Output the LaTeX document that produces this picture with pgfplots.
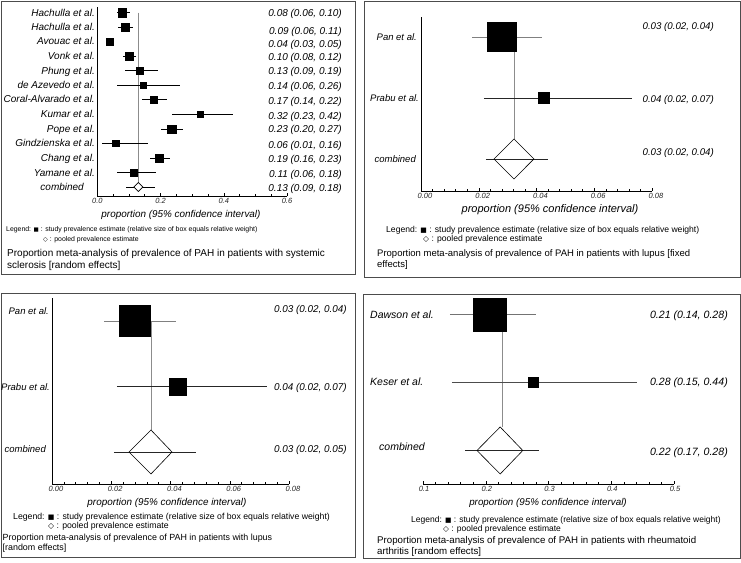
\documentclass[border=0pt]{standalone}
\usepackage{fontspec}
\setmainfont{Liberation Sans}
\newfontfamily\dejavu{DejaVu Sans}
\usepackage{pgfplots}
\pgfplotsset{compat=1.18}
\usepackage{pgfplotstable}

\newcommand{\fs}[1]{\fontsize{#1}{#1}\selectfont}
\newcommand{\sq}{\scalebox{0.8}{\dejavu ■}}
\newcommand{\dm}{\scalebox{0.9}{\dejavu ◇}}

% panel A: systemic sclerosis (row, estimate, lower, upper, half box size in pt)
\pgfplotstableread{
row est lo hi s
-1 0.0796 0.061 0.105 4.1
-2 0.0875 0.064 0.113 4.0
-3 0.039 0.031 0.049 3.7
-4 0.100 0.080 0.122 4.1
-5 0.134 0.087 0.191 3.7
-6 0.144 0.063 0.263 2.8
-7 0.178 0.140 0.222 3.7
-8 0.325 0.236 0.428 3.0
-9 0.235 0.200 0.272 4.1
-10 0.058 0.014 0.159 3.2
-11 0.196 0.166 0.230 3.8
-12 0.115 0.063 0.185 3.7
}\tabA

\pgfplotsset{
  forest/.style={
    scale only axis, clip=false, anchor=south west,
    axis x line=bottom, axis y line=left,
    axis line style={-, black, line width=0.6pt},
    ytick=\empty, enlargelimits=false, scaled x ticks=false,
    xtick align=inside, major tick length=3.5pt, minor tick length=2.5pt,
    tick style={black, line width=0.5pt},
    xticklabel style={font=\fs{7.5}\itshape, inner sep=1.8pt, text=black!85},
  },
}
\tikzset{
  T/.style={inner sep=0pt, text depth=0pt, font=\fs{#1}, execute at begin node={\rule{0pt}{0.72em}}},
  TI/.style={inner sep=0pt, text depth=0pt, font=\fs{#1}\itshape, execute at begin node={\rule{0pt}{0.72em}}},
}

\begin{document}
\begin{tikzpicture}
\useasboundingbox (0pt,0pt) rectangle (741pt,-562pt);

% ---------------- Panel A ----------------
\begin{axis}[forest, at={(97.3pt,-196pt)}, width=189.7pt, height=189pt,
  xmin=0, xmax=0.6, ymin=-13.62, ymax=-0.62,
  xtick={0,0.2,0.4,0.6}, xticklabels={0.0,0.2,0.4,0.6}, minor x tick num=3]
\addplot[black!45, line width=0.5pt] coordinates {(0.13,-1) (0.13,-13)};
\addplot[only marks, mark=none, error bars/.cd, x dir=both, x explicit, error mark=none,
  error bar style={black, line width=0.6pt}]
  table[x=est, y=row, x error plus expr=\thisrow{hi}-\thisrow{est}, x error minus expr=\thisrow{est}-\thisrow{lo}]{\tabA};
\addplot[scatter, only marks, mark=square*, scatter/use mapped color={draw=black, fill=black},
  mark options={line width=0.2pt},
  visualization depends on={\thisrow{s}\as\bsize},
  scatter/@pre marker code/.append style={/tikz/mark size=\bsize}]
  table[x=est, y=row]{\tabA};
\addplot[black, line width=0.6pt] coordinates {(0.091,-13) (0.182,-13)};
\addplot[black, fill=white, line width=0.6pt] coordinates {(0.1158,-13) (0.13,-12.69) (0.1442,-13) (0.13,-13.31)} -- cycle;
\end{axis}

% ---------------- Panel B ----------------
\begin{axis}[forest, at={(421pt,-191pt)}, width=231pt, height=174pt,
  xmin=0, xmax=0.08, ymin=-3.525, ymax=-0.672,
  xtick={0,0.02,0.04,0.06,0.08}, xticklabels={0.00,0.02,0.04,0.06,0.08},
  minor x tick num=4, xticklabel style={xshift=4pt}]
\addplot[black!45, line width=0.5pt] coordinates {(0.0322,-1) (0.0322,-2.672)};
\addplot[black!50, line width=0.7pt] coordinates {(0.0177,-1) (0.0419,-1)};
\addplot[black!85, line width=0.7pt] coordinates {(0.0218,-2) (0.073,-2)};
\addplot[black!85, line width=0.7pt] coordinates {(0.0225,-3) (0.044,-3)};
\addplot[only marks, mark=square*, mark size=14.4, black] coordinates {(0.028,-1)};
\addplot[only marks, mark=square*, mark size=5.4, black] coordinates {(0.0424,-2)};
\addplot[black, line width=0.6pt] coordinates {(0.0253,-3) (0.0322,-2.672) (0.0391,-3) (0.0322,-3.328)} -- cycle;
\end{axis}

% ---------------- Panel C ----------------
\begin{axis}[forest, at={(52pt,-484pt)}, width=237pt, height=186pt,
  xmin=0, xmax=0.08, ymin=-3.489, ymax=-0.649,
  xtick={0,0.02,0.04,0.06,0.08}, xticklabels={0.00,0.02,0.04,0.06,0.08},
  minor x tick num=4, xticklabel style={xshift=4pt}]
\addplot[black!45, line width=0.5pt] coordinates {(0.0334,-1) (0.0334,-2.664)};
\addplot[black!50, line width=0.7pt] coordinates {(0.0176,-1) (0.0419,-1)};
\addplot[black!85, line width=0.7pt] coordinates {(0.0219,-2) (0.0726,-2)};
\addplot[black!85, line width=0.7pt] coordinates {(0.0209,-3) (0.0486,-3)};
\addplot[only marks, mark=square*, mark size=15.5, black] coordinates {(0.0278,-1)};
\addplot[only marks, mark=square*, mark size=8.3, black] coordinates {(0.0424,-2)};
\addplot[black, line width=0.6pt] coordinates {(0.026,-3) (0.0334,-2.664) (0.0405,-3) (0.0334,-3.336)} -- cycle;
\end{axis}

% ---------------- Panel D ----------------
\begin{axis}[forest, axis y line=none, at={(423pt,-484pt)}, width=251pt, height=187.5pt,
  xmin=0.1, xmax=0.5, ymin=-3.493, ymax=-0.735,
  xtick={0.1,0.2,0.3,0.4,0.5}, xticklabels={0.1,0.2,0.3,0.4,0.5},
  minor x tick num=4, xticklabel style={xshift=1pt}]
\addplot[black!45, line width=0.5pt] coordinates {(0.226,-1) (0.226,-2.654)};
\addplot[black!55, line width=0.7pt] coordinates {(0.143,-1) (0.280,-1)};
\addplot[black!70, line width=0.7pt] coordinates {(0.146,-2) (0.441,-2)};
\addplot[black!85, line width=0.7pt] coordinates {(0.167,-3) (0.285,-3)};
\addplot[only marks, mark=square*, mark size=16.3, black] coordinates {(0.206,-1)};
\addplot[only marks, mark=square*, mark size=4.9, black] coordinates {(0.275,-2)};
\addplot[black, line width=0.6pt] coordinates {(0.186,-3) (0.223,-2.654) (0.259,-3) (0.223,-3.346)} -- cycle;
\end{axis}

\begin{scope}[x=1pt, y=-1pt]
% frames
\draw[black!70, line width=1pt] (1,1) rectangle (355,274);
\draw[black!70, line width=1pt] (364,1) rectangle (740,277);
\draw[black!70, line width=1pt] (1,293) rectangle (355,557);
\draw[black!70, line width=1pt] (363,294) rectangle (740,558);

% Panel A texts
\foreach \y/\t in {12.5/Hachulla et al., 27/Hachulla et al., 41/Avouac et al., 56/Vonk et al., 71/Phung et al., 85/de Azevedo et al., 99/Coral-Alvarado et al., 114/Kumar et al., 129/Pope et al., 143/Gindzienska et al., 158/Chang et al., 173/Yamane et al.}
  \node[TI=10, anchor=east] at (95,\y) {\t};
\node[TI=10, anchor=east] at (84,187) {combined};
\foreach \y/\t in {13/{0.08 (0.06, 0.10)}, 31/{0.09 (0.06, 0.11)}, 44/{0.04 (0.03, 0.05)}, 57/{0.10 (0.08, 0.12)}, 71/{0.13 (0.09, 0.19)}, 86/{0.14 (0.06, 0.26)}, 101/{0.17 (0.14, 0.22)}, 116/{0.32 (0.23, 0.42)}, 129/{0.23 (0.20, 0.27)}, 145/{0.06 (0.01, 0.16)}, 159/{0.19 (0.16, 0.23)}, 174/{0.11 (0.06, 0.18)}, 188/{0.13 (0.09, 0.18)}}
  \node[TI=10, anchor=east] at (342,\y) {\t};
\node[TI=9.9] at (181,214) {proportion (95\% confidence interval)};
\node[T=6.9, anchor=west] at (6,229) {Legend: \sq\ : study prevalence estimate (relative size of box equals relative weight)};
\node[T=6.9, anchor=west] at (43,239) {\dm\ : pooled prevalence estimate};
\node[T=10, anchor=west] at (7,253) {Proportion meta-analysis of prevalence of PAH in patients with systemic};
\node[T=10, anchor=west] at (7,265) {sclerosis [random effects]};

% Panel B texts
\node[TI=9.5, anchor=east] at (417,37) {Pan et al.};
\node[TI=9.5, anchor=east] at (419,98) {Prabu et al.};
\node[TI=9.5, anchor=east] at (416,159) {combined};
\node[TI=9.7, anchor=east] at (714,26) {0.03 (0.02, 0.04)};
\node[TI=9.7, anchor=east] at (714,99) {0.04 (0.02, 0.07)};
\node[TI=9.7, anchor=east] at (714,152) {0.03 (0.02, 0.04)};
\node[TI=11] at (550,209) {proportion (95\% confidence interval)};
\node[T=8.6, anchor=west] at (386,229) {Legend: \sq\ : study prevalence estimate (relative size of box equals relative weight)};
\node[T=8.6, anchor=west] at (423,238) {\dm\ : pooled prevalence estimate};
\node[T=9.5, anchor=west] at (377,253) {Proportion meta-analysis of prevalence of PAH in patients with lupus [fixed};
\node[T=9.5, anchor=west] at (377,264) {effects]};

% Panel C texts
\node[TI=9.5, anchor=east] at (49,311) {Pan et al.};
\node[TI=9.5, anchor=east] at (50,387) {Prabu et al.};
\node[TI=9.5, anchor=east] at (46,449) {combined};
\node[TI=9.9, anchor=east] at (347,309) {0.03 (0.02, 0.04)};
\node[TI=9.9, anchor=east] at (347,387) {0.04 (0.02, 0.07)};
\node[TI=9.9, anchor=east] at (347,449) {0.03 (0.02, 0.05)};
\node[TI=9.9] at (167,502) {proportion (95\% confidence interval)};
\node[T=8.7, anchor=west] at (13,516) {Legend: \sq\ : study prevalence estimate (relative size of box equals relative weight)};
\node[T=8.7, anchor=west] at (48,525) {\dm\ : pooled prevalence estimate};
\node[T=8.9, anchor=west] at (2.5,537) {Proportion meta-analysis of prevalence of PAH in patients with lupus};
\node[T=8.9, anchor=west] at (2.5,547) {[random effects]};

% Panel D texts
\node[TI=10.5, anchor=west] at (370,315) {Dawson et al.};
\node[TI=10.5, anchor=west] at (370,382) {Keser et al.};
\node[TI=10.5, anchor=west] at (379,447) {combined};
\node[TI=10.6, anchor=east] at (728,315) {0.21 (0.14, 0.28)};
\node[TI=10.6, anchor=east] at (728,382) {0.28 (0.15, 0.44)};
\node[TI=10.6, anchor=east] at (728,452) {0.22 (0.17, 0.28)};
\node[TI=9.8] at (548,502) {proportion (95\% confidence interval)};
\node[T=8.5, anchor=west] at (411,519) {Legend: \sq\ : study prevalence estimate (relative size of box equals relative weight)};
\node[T=8.5, anchor=west] at (443,528) {\dm\ : pooled prevalence estimate};
\node[T=9.7, anchor=west] at (377,540) {Proportion meta-analysis of prevalence of PAH in patients with rheumatoid};
\node[T=9.7, anchor=west] at (377,551) {arthritis [random effects]};
\end{scope}
\end{tikzpicture}
\end{document}
